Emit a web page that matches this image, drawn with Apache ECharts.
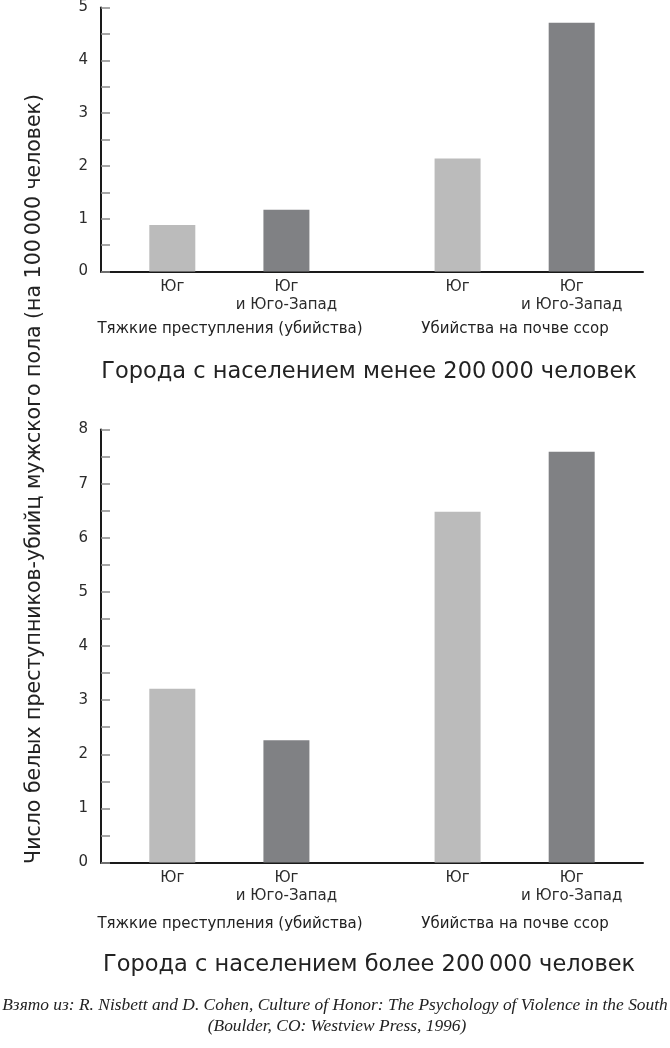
<!DOCTYPE html>
<html><head><meta charset="utf-8">
<script src="https://cdn.jsdelivr.net/npm/echarts@6/dist/echarts.min.js"></script>
<style>html,body{margin:0;padding:0;background:#fff}#c{width:670px;height:1048px}</style>
</head><body><div id="c"></div>
<script>
// ---- data ----
const crimeTypes = ['Тяжкие преступления (убийства)', 'Убийства на почве ссор'];
const regions = ['Юг', 'Юг\nи Юго-Запад'];
const panelTitles = ['Города с населением менее 200\u2009000 человек', 'Города с населением более 200\u2009000 человек'];
const smallSouth = [0.88, 2.14];
const smallSouthSouthwest = [1.17, 4.71];
const largeSouth = [3.21, 6.48];
const largeSouthSouthwest = [2.26, 7.59];
const smallAxisMax = 5;
const largeAxisMax = 8;
const yTitle = 'Число белых преступников-убийц мужского пола (на 100\u2009000 человек)';
const citationLines = [
  'Взято из: R. Nisbett and D. Cohen, Culture of Honor: The Psychology of Violence in the South',
  '(Boulder, CO: Westview Press, 1996)'
];

// ---- layout helpers ----
const FONT = 'DejaVu Sans';
const NSLOTS = 19;
const groupSlots = [[2, 6], [12, 16]]; // slot index per [crimeType][region]
const slots = Array(NSLOTS).fill('');
groupSlots.forEach(g => g.forEach((s, r) => { slots[s] = regions[r]; }));

function seriesData(vals, regionIdx) {
  const d = Array(NSLOTS).fill('-');
  vals.forEach((v, ci) => { d[groupSlots[ci][regionIdx]] = v; });
  return d;
}
const LIGHT = '#bbbbbb', DARK = '#808184';

const grids = [
  { left: 101, right: 27, top: 1.5, height: 270 },
  { left: 101, right: 27, top: 429.5, height: 433 }
];
function xAx(i) {
  return {
    type: 'category', gridIndex: i, data: slots,
    axisLine: { lineStyle: { color: '#1a1a1a', width: 2 } },
    axisTick: { show: false },
    axisLabel: { interval: 0, fontFamily: FONT, fontSize: 15, lineHeight: 18, color: '#2b2b2b', margin: 7 }
  };
}
function yAx(i, max) {
  return {
    type: 'value', gridIndex: i, min: 0, max: max, interval: 1,
    axisLine: { show: true, lineStyle: { color: '#1a1a1a', width: 2 } },
    axisTick: { show: true, inside: true, length: 9, lineStyle: { color: '#8a8a8a', width: 1.5 } },
    minorTick: { show: true, splitNumber: 2, length: 9, lineStyle: { color: '#8a8a8a', width: 1.5 } },
    splitLine: { show: false },
    axisLabel: { fontFamily: FONT, fontSize: 15, color: '#2b2b2b', margin: 13 }
  };
}
function bar(i, vals, r) {
  return {
    type: 'bar', xAxisIndex: i, yAxisIndex: i, data: seriesData(vals, r),
    barWidth: 46, barGap: '-100%', itemStyle: { color: r === 0 ? LIGHT : DARK },
    silent: true
  };
}
function txt(x, y, text, size, extra) {
  return Object.assign({
    type: 'text', x: x, y: y,
    style: Object.assign({ text: text, font: size + 'px "' + FONT + '"', fill: '#222', align: 'center', verticalAlign: 'middle' }, extra || {})
  });
}

const chart = echarts.init(document.getElementById('c'), null, { renderer: 'canvas' });
chart.setOption({
  animation: false,
  grid: grids,
  xAxis: [xAx(0), xAx(1)],
  yAxis: [yAx(0, smallAxisMax), yAx(1, largeAxisMax)],
  series: [
    bar(0, smallSouth, 0), bar(0, smallSouthSouthwest, 1),
    bar(1, largeSouth, 0), bar(1, largeSouthSouthwest, 1)
  ],
  graphic: [
    txt(230, 329, crimeTypes[0], 15), txt(515, 329, crimeTypes[1], 15),
    txt(230, 924, crimeTypes[0], 15), txt(515, 924, crimeTypes[1], 15),
    txt(369, 372, panelTitles[0], 22.5), txt(369, 965, panelTitles[1], 22.5),
    { type: 'text', x: 35, y: 479, rotation: Math.PI / 2,
      style: { text: yTitle, font: '20.5px "' + FONT + '"', fill: '#222', align: 'center', verticalAlign: 'middle' } },
    { type: 'text', x: 335, y: 1005, style: { text: citationLines[0], font: 'italic 17.4px "Liberation Serif"', fill: '#222', align: 'center', verticalAlign: 'middle' } },
    { type: 'text', x: 337, y: 1026, style: { text: citationLines[1], font: 'italic 17.4px "Liberation Serif"', fill: '#222', align: 'center', verticalAlign: 'middle' } }
  ]
});
</script></body></html>
